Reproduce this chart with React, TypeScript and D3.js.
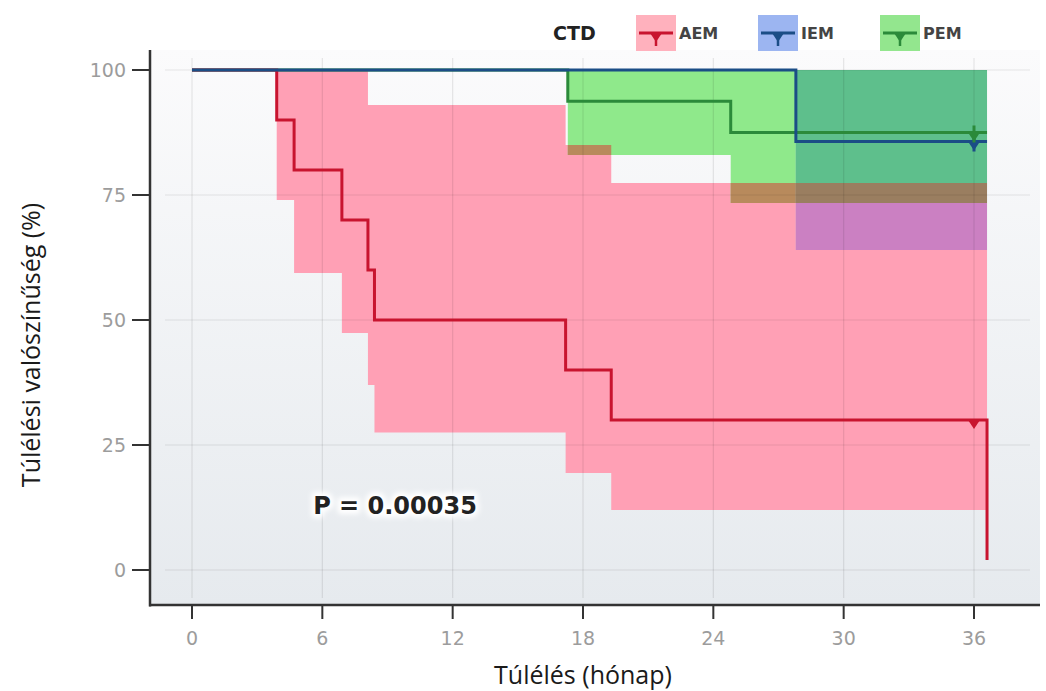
import React, { useEffect, useRef } from "react";
import * as d3 from "d3";

const xTicks = [0, 6, 12, 18, 24, 30, 36];
const yTicks = [0, 25, 50, 75, 100];
const groups = ["AEM", "IEM", "PEM"];

// Kaplan-Meier steps: time in months, survival in %
const aemTime = [0, 3.9, 4.7, 6.9, 8.1, 8.4, 17.2, 19.3, 36.6];
const aemSurv = [100, 90, 80, 70, 60, 50, 40, 30, 2];
const iemTime = [0, 27.8, 36.6];
const iemSurv = [100, 85.7, 85.7];
const pemTime = [0, 17.3, 24.8, 36.6];
const pemSurv = [100, 93.75, 87.5, 87.5];

// confidence bands
const aemBandTime = [3.9, 4.7, 6.9, 8.1, 8.4, 17.2, 19.3, 36.6];
const aemUpper = [100, 100, 100, 93, 93, 85, 77.4, 77.4];
const aemLower = [74, 59.4, 47.4, 37, 27.5, 19.4, 12, 12];
const iemBandTime = [27.8, 36.6];
const iemUpper = [100, 100];
const iemLower = [64, 64];
const pemBandTime = [17.3, 24.8, 36.6];
const pemUpper = [100, 100, 100];
const pemLower = [83, 73.4, 73.4];

// censored observations at 36 months
const censorTime = [36, 36, 36];
const censorSurv = [30, 85.7, 87.5];

const lineColors = ["#c8142f", "#1b4d86", "#2b8a3a"];
const keyColors = ["#ffb1bd", "#9cb5f1", "#93e68e"];

const App = () => {
  const ref = useRef<SVGSVGElement | null>(null);

  useEffect(() => {
    const W = 1046, H = 691;
    const panel = { left: 150, right: 1040, top: 50, bottom: 605 };
    const svg = d3.select(ref.current);
    svg.selectAll("*").remove();

    const x = d3.scaleLinear().domain([0, 36]).range([192, 974]);
    const y = d3.scaleLinear().domain([0, 100]).range([570, 70]);

    const defs = svg.append("defs");
    const grad = defs.append("linearGradient").attr("id", "bg").attr("x1", 0).attr("y1", 0).attr("x2", 0).attr("y2", 1);
    grad.append("stop").attr("offset", "0%").attr("stop-color", "#fbfbfc");
    grad.append("stop").attr("offset", "100%").attr("stop-color", "#e6eaee");
    const glow = defs.append("filter").attr("id", "glow").attr("x", "-20%").attr("y", "-50%").attr("width", "140%").attr("height", "200%");
    glow.append("feGaussianBlur").attr("stdDeviation", 2.5);

    svg.append("rect").attr("width", W).attr("height", H).attr("fill", "#fff");
    svg.append("rect")
      .attr("x", panel.left).attr("y", panel.top)
      .attr("width", panel.right - panel.left).attr("height", panel.bottom - panel.top)
      .attr("fill", "url(#bg)");

    const band = (t: number[], lo: number[], hi: number[]) =>
      d3.area<number>()
        .x(i => x(t[i]))
        .y0(i => y(lo[i]))
        .y1(i => y(hi[i]))
        .curve(d3.curveStepAfter)(d3.range(t.length)) as string;

    const aemBand = band(aemBandTime, aemLower, aemUpper);
    const iemBand = band(iemBandTime, iemLower, iemUpper);
    const pemBand = band(pemBandTime, pemLower, pemUpper);

    defs.append("clipPath").attr("id", "cAEM").append("path").attr("d", aemBand);
    defs.append("clipPath").attr("id", "cPEM").append("path").attr("d", pemBand);

    svg.append("path").attr("d", aemBand).attr("fill", "#ffa0b5");
    svg.append("path").attr("d", pemBand).attr("fill", "#8fe98b");
    svg.append("path").attr("d", iemBand).attr("fill", "#9cb5f1");
    // overlapping parts of the bands
    svg.append("g").attr("clip-path", "url(#cAEM)")
      .append("path").attr("d", pemBand).attr("fill", "#b88a5c");
    svg.append("g").attr("clip-path", "url(#cAEM)")
      .append("path").attr("d", iemBand).attr("fill", "#cb80c2");
    svg.append("g").attr("clip-path", "url(#cPEM)")
      .append("path").attr("d", iemBand).attr("fill", "#5ebf8c");
    svg.append("g").attr("clip-path", "url(#cAEM)")
      .append("g").attr("clip-path", "url(#cPEM)")
      .append("path").attr("d", iemBand).attr("fill", "#9a7e60");

    // grid
    const grid = svg.append("g").attr("stroke", "#000").attr("stroke-opacity", 0.09).attr("stroke-width", 1.2);
    grid.selectAll(".gy").data(yTicks).join("line")
      .attr("x1", 165).attr("x2", 1030)
      .attr("y1", d => y(d)).attr("y2", d => y(d));
    grid.selectAll(".gx").data(xTicks).join("line")
      .attr("x1", d => x(d)).attr("x2", d => x(d))
      .attr("y1", 58).attr("y2", 598);

    // survival curves
    const curve = (t: number[], s: number[]) =>
      d3.line<number>().x(i => x(t[i])).y(i => y(s[i])).curve(d3.curveStepAfter)(d3.range(t.length)) as string;
    const series = [
      { t: pemTime, s: pemSurv, c: lineColors[2] },
      { t: aemTime, s: aemSurv, c: lineColors[0] },
      { t: iemTime, s: iemSurv, c: lineColors[1] },
    ];
    series.forEach(d => {
      svg.append("path").attr("d", curve(d.t, d.s))
        .attr("fill", "none").attr("stroke", d.c).attr("stroke-width", 3);
    });

    // censor marks
    const mark = (cx: number, cy: number) =>
      `M${cx - 6},${cy} L${cx + 6},${cy} L${cx},${cy + 9} Z`;
    censorTime.forEach((t, i) => {
      const g = svg.append("g");
      g.append("path").attr("d", mark(x(t), y(censorSurv[i]))).attr("fill", lineColors[i]);
      if (i > 0) {
        g.append("line").attr("x1", x(t)).attr("x2", x(t))
          .attr("y1", y(censorSurv[i]) - 7).attr("y2", y(censorSurv[i]) + 10)
          .attr("stroke", lineColors[i]).attr("stroke-width", 3);
      }
    });

    // axes
    const axisColor = "#333";
    svg.append("line").attr("x1", panel.left).attr("x2", panel.left)
      .attr("y1", panel.top).attr("y2", panel.bottom + 1.5)
      .attr("stroke", axisColor).attr("stroke-width", 2.5);
    svg.append("line").attr("x1", panel.left - 1).attr("x2", panel.right)
      .attr("y1", panel.bottom).attr("y2", panel.bottom)
      .attr("stroke", axisColor).attr("stroke-width", 2.5);

    svg.selectAll(".yt").data(yTicks).join("line")
      .attr("x1", 132).attr("x2", panel.left)
      .attr("y1", d => y(d)).attr("y2", d => y(d))
      .attr("stroke", axisColor).attr("stroke-width", 2);
    svg.selectAll(".xt").data(xTicks).join("line")
      .attr("x1", d => x(d)).attr("x2", d => x(d))
      .attr("y1", panel.bottom).attr("y2", 619)
      .attr("stroke", axisColor).attr("stroke-width", 2);

    const tickFont = "'DejaVu Sans', sans-serif";
    svg.selectAll(".yl").data(yTicks).join("text")
      .attr("x", 126).attr("y", d => y(d))
      .attr("dy", "0.36em").attr("text-anchor", "end")
      .attr("font-family", tickFont).attr("font-size", 19).attr("fill", "#9c9c9c")
      .text(d => d);
    svg.selectAll(".xl").data(xTicks).join("text")
      .attr("x", d => x(d)).attr("y", 645)
      .attr("text-anchor", "middle")
      .attr("font-family", tickFont).attr("font-size", 19).attr("fill", "#9c9c9c")
      .text(d => d);

    const titleFont = "'Open Sans', sans-serif";
    svg.append("text")
      .attr("x", 583).attr("y", 684).attr("text-anchor", "middle")
      .attr("font-family", titleFont).attr("font-size", 25).attr("fill", "#1a1a1a")
      .text("Túlélés (hónap)");
    svg.append("text")
      .attr("transform", "translate(40,345) rotate(-90)")
      .attr("text-anchor", "middle")
      .attr("font-family", titleFont).attr("font-size", 25).attr("fill", "#1a1a1a")
      .text("Túlélési valószínűség (%)");

    // p-value with white halo
    const pFont = "'DejaVu Sans', sans-serif";
    svg.append("text")
      .attr("x", 395).attr("y", 514).attr("text-anchor", "middle")
      .attr("font-family", pFont).attr("font-weight", "bold").attr("font-size", 24)
      .attr("fill", "#fff").attr("stroke", "#fff").attr("stroke-width", 8)
      .attr("stroke-linejoin", "round").attr("filter", "url(#glow)")
      .text("P = 0.00035");
    svg.append("text")
      .attr("x", 395).attr("y", 514).attr("text-anchor", "middle")
      .attr("font-family", pFont).attr("font-weight", "bold").attr("font-size", 24)
      .attr("fill", "#222")
      .text("P = 0.00035");

    // legend
    const legend = svg.append("g");
    legend.append("text")
      .attr("x", 553).attr("y", 33).attr("dy", "0.36em")
      .attr("font-family", pFont).attr("font-weight", "bold").attr("font-size", 19)
      .attr("fill", "#222").text("CTD");
    groups.forEach((g, i) => {
      const bx = 636 + i * 122;
      legend.append("rect").attr("x", bx).attr("y", 15).attr("width", 40).attr("height", 36)
        .attr("fill", keyColors[i]);
      legend.append("line").attr("x1", bx + 3).attr("x2", bx + 37)
        .attr("y1", 33).attr("y2", 33).attr("stroke", lineColors[i]).attr("stroke-width", 3);
      legend.append("path").attr("d", mark(bx + 20, 33)).attr("fill", lineColors[i]);
      legend.append("line").attr("x1", bx + 20).attr("x2", bx + 20)
        .attr("y1", 33).attr("y2", 46).attr("stroke", lineColors[i]).attr("stroke-width", 2.5);
      legend.append("text")
        .attr("x", bx + 43).attr("y", 33).attr("dy", "0.36em")
        .attr("font-family", pFont).attr("font-weight", "bold").attr("font-size", 16)
        .attr("fill", "#444").text(g);
    });
  }, []);

  return (
    <svg ref={ref} width={1046} height={691}
      style={{ position: "absolute", left: 0, top: 0, display: "block" }} />
  );
};

export default App;
